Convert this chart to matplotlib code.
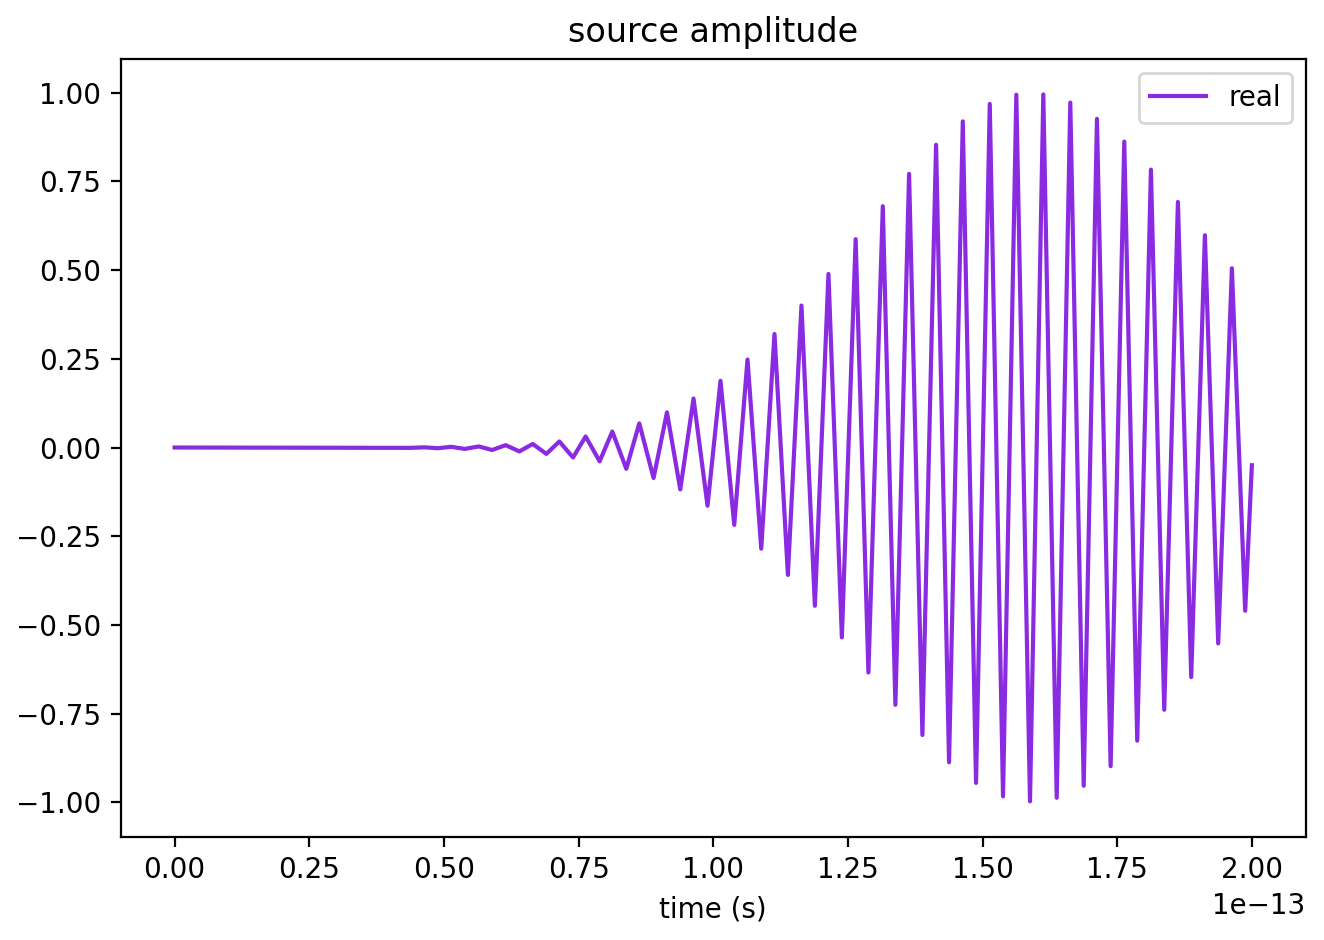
import numpy as np
import matplotlib
matplotlib.use("Agg")
import matplotlib.pyplot as plt

# extrema of the oscillation (time in units of 1e-13 s)
t_max = [0.4638, 0.5134, 0.5646, 0.6147, 0.6648, 0.7143, 0.7631, 0.8126,
         0.8627, 0.9141, 0.9634, 1.0135, 1.0636, 1.1137, 1.1638, 1.2139,
         1.2644, 1.3148, 1.3636, 1.4137, 1.4633, 1.5134, 1.5627, 1.6128,
         1.6629, 1.7124, 1.7631, 1.8126, 1.8627, 1.9128, 1.9629]
v_max = [0.0005, 0.002, 0.003, 0.0066, 0.010, 0.017, 0.031, 0.045,
         0.068, 0.099, 0.138, 0.188, 0.248, 0.320, 0.400, 0.489,
         0.587, 0.680, 0.771, 0.853, 0.919, 0.968, 0.994, 0.995,
         0.972, 0.926, 0.862, 0.783, 0.692, 0.598, 0.505]

t_min = [0.4378, 0.4885, 0.5386, 0.5894, 0.6401, 0.6902, 0.7397, 0.7891,
         0.8386, 0.8892, 0.9388, 0.9894, 1.0390, 1.0891, 1.1386, 1.1887,
         1.2388, 1.2881, 1.3382, 1.3883, 1.4378, 1.4879, 1.5380, 1.5881,
         1.6377, 1.6878, 1.7378, 1.7872, 1.8373, 1.8874, 1.9375, 1.9876]
v_min = [-0.001, -0.002, -0.004, -0.007, -0.011, -0.018, -0.028, -0.039,
         -0.060, -0.086, -0.118, -0.164, -0.218, -0.285, -0.359, -0.446,
         -0.535, -0.634, -0.725, -0.810, -0.887, -0.945, -0.983, -0.997,
         -0.987, -0.953, -0.898, -0.826, -0.739, -0.647, -0.552, -0.460]

# start and end of the trace
t_ends = [0.0, 2.0]
v_ends = [0.0, -0.05]

t = np.array(t_max + t_min + t_ends)
v = np.array(v_max + v_min + v_ends)
order = np.argsort(t)
t = t[order] * 1e-13
v = v[order]

fig, ax = plt.subplots(figsize=(6.62, 4.70), dpi=200)
fig.subplots_adjust(left=0.0912, right=0.9862, bottom=0.1099, top=0.9372)

ax.plot(t, v, color="#8a2be2", label="real")
ax.set_title("source amplitude")
ax.set_xlabel("time (s)")
ax.legend(loc="upper right")

fig.savefig("out.png", dpi=200)
